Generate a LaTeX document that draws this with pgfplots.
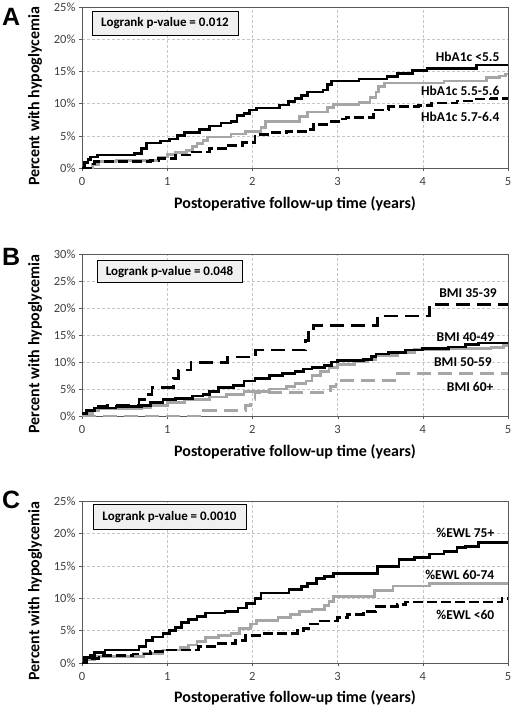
\documentclass[border=0pt]{standalone}
\usepackage{fontspec}
\setmainfont{Carlito}
\newfontfamily\arialfont{Liberation Sans}
\usepackage{pgfplots}
\pgfplotsset{compat=1.18}
\definecolor{kmgray}{HTML}{A6A6A6}
\definecolor{tickgray}{HTML}{404040}
\definecolor{boxfill}{HTML}{F0F0F0}

\pgfplotsset{
 kmaxis/.style={
  scale only axis, width=426pt, xmin=0, xmax=5, ymin=0,
  xtick={0,1,2,3,4,5},
  grid=major, major grid style={densely dashed, gray!45, line width=0.5pt},
  axis line style={gray!70!black, line width=0.7pt},
  tick align=outside, major tick length=3pt, tick style={gray!70!black},
  tick pos=left,
  ticklabel style={font=\fontsize{12.5}{14}\selectfont, text=tickgray},
  xticklabel style={yshift=-3pt},
  /pgf/number format/assume math mode=true,
  xlabel={Postoperative follow-up time (years)},
  ylabel={Percent with hypoglycemia},
  label style={font=\bfseries\fontsize{16}{18}\selectfont},
  ylabel style={at={(axis description cs:-0.11,0.445)}, anchor=center},
  clip=false,
 },
}
\tikzset{
 blk/.style={black, line width=2.7pt, const plot},
 gry/.style={kmgray, line width=2.7pt, const plot},
 blkd/.style={black, line width=2.7pt, const plot, dash pattern=on 10pt off 4pt},
 gryd/.style={kmgray, line width=2.7pt, const plot, dash pattern=on 12pt off 6pt},
 lab/.style={anchor=east, font=\bfseries\fontsize{13.5}{15}\selectfont},
 lr/.style={draw=black, line width=0.8pt, fill=boxfill, font=\bfseries\fontsize{13}{15}\selectfont, inner sep=0pt},
 letter/.style={font=\arialfont\bfseries\fontsize{25}{27}\selectfont},
}

\begin{document}
\begin{tikzpicture}
\path[use as bounding box] (0,0) rectangle (514pt,709pt);

% Panel A
\begin{axis}[kmaxis, at={(82pt,541pt)}, anchor=south west, height=161pt,
  ymax=25, ytick={0,5,10,15,20,25}, yticklabels={0\%,5\%,10\%,15\%,20\%,25\%},
  xlabel style={at={(axis description cs:0.5,-0.224)}, anchor=center}]
\addplot[gry] coordinates {
(0,0) (0.12,0.5) (0.2,1.0) (0.4,1.2) (0.9,1.7) (1.0,2.1) (1.1,2.4) (1.23,2.7)
(1.3,3.3) (1.35,3.8) (1.42,4.3) (1.47,4.8) (1.75,5.3) (1.92,5.7) (2.1,6.3)
(2.15,7.2) (2.55,8.0) (2.65,8.7) (2.88,9.4) (2.95,9.9) (3.25,10.2) (3.38,11.0)
(3.45,11.8) (3.48,12.6) (3.55,13.2) (4.25,13.5) (4.75,14.0) (4.9,14.3) (4.97,14.6) (5,14.6)};
\addplot[blkd] coordinates {
(0,0) (0.1,0.6) (0.15,1.0) (0.8,1.2) (0.9,1.5) (1.1,2.0) (1.3,2.5) (1.5,3.0)
(1.7,3.5) (1.88,4.0) (2.03,5.2) (2.2,5.5) (2.4,5.7) (2.65,6.0) (2.72,6.8)
(2.9,7.2) (3.05,7.6) (3.1,7.8) (3.42,9.0) (3.6,9.5) (3.95,9.7) (4.1,10.1)
(4.4,10.4) (4.6,10.7) (4.8,10.8) (5,10.8)};
\addplot[blk] coordinates {
(0,0) (0.03,0.8) (0.07,1.3) (0.1,1.7) (0.18,2.0) (0.62,2.3) (0.7,3.0) (0.76,3.9)
(0.92,4.2) (1.03,4.5) (1.12,5.0) (1.2,5.5) (1.38,6.0) (1.5,6.5) (1.63,7.0)
(1.75,7.2) (1.82,8.2) (1.9,8.5) (1.97,9.0) (2.05,9.3) (2.32,9.8) (2.42,10.3)
(2.5,10.8) (2.58,11.3) (2.65,11.8) (2.83,12.1) (2.88,13.0) (2.93,13.5)
(3.25,13.8) (3.58,14.2) (3.7,14.7) (3.88,15.1) (4.05,15.4) (4.4,15.5) (4.63,16.0) (5,16.0)};
\node[lab] at (axis cs:4.94,17.2) {HbA1c <5.5};
\node[lab] at (axis cs:4.94,12.0) {HbA1c 5.5-5.6};
\node[lab] at (axis cs:4.94,7.9) {HbA1c 5.7-6.4};
\node[lr, minimum width=146pt, minimum height=24pt] at (axis cs:0.974,22.5) {Logrank p-value = 0.012};
\node[letter] at (axis cs:-0.833,23.5) {A};
\end{axis}

% Panel B
\begin{axis}[kmaxis, at={(82pt,293pt)}, anchor=south west, height=162pt,
  ymax=30, ytick={0,5,10,15,20,25,30}, yticklabels={0\%,5\%,10\%,15\%,20\%,25\%,30\%},
  xlabel style={at={(axis description cs:0.5,-0.222)}, anchor=center}]
\addplot[gryd, dash pattern=on 14pt off 7pt] coordinates {
(0,0) (1.42,1.0) (1.92,2.0) (1.98,3.0) (2.03,4.4) (2.92,5.5) (2.98,6.6) (3.67,7.9) (5,7.9)};
\addplot[gry] coordinates {
(0,0) (0.05,0.5) (0.12,1.0) (0.2,1.3) (0.7,1.6) (0.8,2.0) (1.0,2.5) (1.2,3.0)
(1.5,3.5) (1.7,4.0) (1.9,4.5) (2.2,5.0) (2.4,5.5) (2.5,6.0) (2.63,6.5) (2.7,7.5)
(2.8,8.3) (2.9,9.0) (3.0,9.5) (3.2,10.0) (3.35,10.5) (3.45,11.2) (3.7,11.7)
(3.9,12.3) (4.3,12.5) (4.8,12.7) (4.95,13.0) (5,13.0)};
\addplot[blk] coordinates {
(0,0.5) (0.05,1.0) (0.15,1.5) (0.4,1.7) (0.7,2.0) (0.8,2.5) (0.95,3.0) (1.1,3.3)
(1.3,3.7) (1.42,4.0) (1.5,4.5) (1.6,5.3) (1.78,5.7) (1.9,6.5) (2.03,7.0) (2.2,7.5)
(2.35,7.9) (2.5,8.3) (2.6,8.7) (2.7,9.0) (2.85,9.3) (2.93,10.0) (3.0,10.3)
(3.3,10.5) (3.4,11.0) (3.45,11.5) (3.6,11.7) (3.8,12.2) (4.0,12.5) (4.3,12.8)
(4.5,13.2) (4.65,13.5) (5,13.5)};
\addplot[blkd, dash pattern=on 14pt off 7pt] coordinates {
(0,0.5) (0.05,1.0) (0.15,1.7) (0.3,2.0) (0.67,3.0) (0.75,4.0) (0.82,5.3)
(1.07,7.0) (1.13,8.5) (1.28,9.9) (1.71,10.9) (2.04,12.2) (2.62,14.0) (2.66,15.5)
(2.72,16.8) (3.47,18.5) (4.08,20.7) (5,20.7)};
\node[lab] at (axis cs:4.91,22.8) {BMI 35-39};
\node[lab] at (axis cs:4.88,14.6) {BMI 40-49};
\node[lab] at (axis cs:4.85,10.0) {BMI 50-59};
\node[lab] at (axis cs:4.87,5.4) {BMI 60+};
\node[lr, minimum width=145pt, minimum height=22pt] at (axis cs:1.027,26.7) {Logrank p-value = 0.048};
\node[letter] at (axis cs:-0.833,29.4) {B};
\end{axis}

% Panel C
\begin{axis}[kmaxis, at={(82pt,46pt)}, anchor=south west, height=162pt,
  ymax=25, ytick={0,5,10,15,20,25}, yticklabels={0\%,5\%,10\%,15\%,20\%,25\%},
  xlabel style={at={(axis description cs:0.5,-0.216)}, anchor=center}]
\addplot[gry] coordinates {
(0,0) (0.05,0.5) (0.15,1.0) (0.72,1.5) (0.95,2.0) (1.15,2.4) (1.25,2.8) (1.35,3.3)
(1.45,3.9) (1.6,4.2) (1.75,4.6) (1.85,5.3) (1.98,6.0) (2.05,6.6) (2.3,7.0)
(2.45,7.5) (2.55,8.0) (2.7,8.3) (2.85,8.9) (2.9,9.5) (2.95,10.3) (3.43,11.2)
(3.65,11.9) (4.08,12.3) (5,12.3)};
\addplot[blkd] coordinates {
(0,0) (0.05,0.7) (0.2,1.2) (0.6,1.4) (0.8,1.8) (1.0,2.0) (1.37,2.5) (1.6,3.0)
(1.8,3.5) (1.92,4.2) (2.1,4.5) (2.53,5.0) (2.6,5.3) (2.68,6.0) (2.8,6.5) (3.0,7.0)
(3.12,7.5) (3.3,8.0) (3.45,8.7) (3.7,9.0) (3.8,9.4) (4.93,10.0) (5,10.0)};
\addplot[blk] coordinates {
(0,0) (0.03,0.8) (0.1,1.2) (0.15,1.6) (0.27,2.0) (0.67,2.5) (0.75,3.5) (0.83,4.0)
(0.95,4.5) (1.03,5.0) (1.1,5.5) (1.17,6.3) (1.25,6.7) (1.35,7.2) (1.45,7.7)
(1.68,8.0) (1.83,8.5) (1.93,9.2) (2.03,10.0) (2.1,10.8) (2.43,11.3) (2.58,11.8)
(2.65,12.3) (2.75,13.0) (2.85,13.4) (2.95,13.8) (3.47,14.9) (3.72,16.0) (3.9,16.3)
(4.08,16.8) (4.25,17.2) (4.4,17.8) (4.5,18.0) (4.65,18.6) (5,18.6)};
\node[lab] at (axis cs:4.88,20.1) {\%EWL 75+};
\node[lab] at (axis cs:4.88,13.6) {\%EWL 60-74};
\node[lab] at (axis cs:4.88,7.4) {\%EWL <60};
\node[lr, minimum width=153pt, minimum height=25pt] at (axis cs:1.027,22.6) {Logrank p-value = 0.0010};
\node[letter] at (axis cs:-0.833,25.2) {C};
\end{axis}
\end{tikzpicture}
\end{document}
